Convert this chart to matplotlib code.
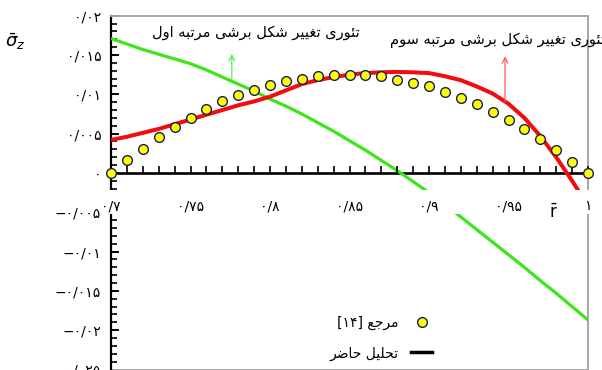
import re
import matplotlib
matplotlib.use('Agg')
import matplotlib.pyplot as plt
import matplotlib.transforms as mtransforms
from matplotlib.lines import Line2D
from matplotlib.patches import Rectangle
from matplotlib.ticker import MultipleLocator

# ---------------- data ----------------
r_bar = [0.70, 0.71, 0.72, 0.73, 0.74, 0.75, 0.76, 0.77, 0.78, 0.79, 0.80,
         0.81, 0.82, 0.83, 0.84, 0.85, 0.86, 0.87, 0.88, 0.89, 0.90,
         0.91, 0.92, 0.93, 0.94, 0.95, 0.96, 0.97, 0.98, 0.99, 1.00]

ref14 = [0.0, 0.0016, 0.0031, 0.0046, 0.0059, 0.0070, 0.0081, 0.0091, 0.0099, 0.0106, 0.0112,
         0.0117, 0.0120, 0.0123, 0.0124, 0.0124, 0.0124, 0.0123, 0.0118, 0.0114, 0.0110,
         0.0103, 0.0095, 0.0088, 0.0078, 0.0067, 0.0056, 0.0043, 0.0029, 0.0014, 0.0]

third_order = [0.0042, 0.0046, 0.0051, 0.0056, 0.0062, 0.0068, 0.0074, 0.0080, 0.0086, 0.0091, 0.0097,
               0.0105, 0.0113, 0.0118, 0.0122, 0.0125, 0.0127, 0.0128, 0.01285, 0.0128, 0.0127,
               0.0123, 0.0118, 0.0110, 0.0101, 0.0088, 0.0070, 0.0047, 0.0020, -0.0010, -0.0042]

first_order = [0.0171, 0.0164, 0.0157, 0.0151, 0.0145, 0.0139, 0.0131, 0.0122, 0.0113, 0.0104, 0.0094,
               0.0085, 0.0075, 0.0064, 0.0053, 0.0041, 0.0029, 0.0016, 0.0003, -0.0011, -0.0025,
               -0.0040, -0.0056, -0.0072, -0.0088, -0.0104, -0.0120, -0.0137, -0.0153, -0.0170, -0.0187]

xtick_values = [0.70, 0.75, 0.80, 0.85, 0.90, 0.95, 1.00]
xtick_labels = ['۰/۷', '۰/۷۵', '۰/۸', '۰/۸۵', '۰/۹', '۰/۹۵', '۱']
ytick_values = [0.02, 0.015, 0.01, 0.005, 0.0, -0.005, -0.01, -0.015, -0.02, -0.025]
ytick_labels = ['۰/۰۲', '۰/۰۱۵', '۰/۰۱', '۰/۰۰۵', '۰',
                '−۰/۰۰۵', '−۰/۰۱', '−۰/۰۱۵', '−۰/۰۲', '−۰/۰۲۵']

label_first = 'تئوری تغییر شکل برشی مرتبه اول'
label_third = 'تئوری تغییر شکل برشی مرتبه سوم'
label_ref = 'مرجع [۱۴]'
label_present = 'تحلیل حاضر'

# ---------------- minimal Persian shaping ----------------
FORMS = {
    '\u0627': ('\uFE8D', '\uFE8E', None, None),
    '\u0628': ('\uFE8F', '\uFE90', '\uFE91', '\uFE92'),
    '\u062A': ('\uFE95', '\uFE96', '\uFE97', '\uFE98'),
    '\u062C': ('\uFE9D', '\uFE9E', '\uFE9F', '\uFEA0'),
    '\u062D': ('\uFEA1', '\uFEA2', '\uFEA3', '\uFEA4'),
    '\u062F': ('\uFEA9', '\uFEAA', None, None),
    '\u0631': ('\uFEAD', '\uFEAE', None, None),
    '\u0632': ('\uFEAF', '\uFEB0', None, None),
    '\u0633': ('\uFEB1', '\uFEB2', '\uFEB3', '\uFEB4'),
    '\u0634': ('\uFEB5', '\uFEB6', '\uFEB7', '\uFEB8'),
    '\u0636': ('\uFEBD', '\uFEBE', '\uFEBF', '\uFEC0'),
    '\u0639': ('\uFEC9', '\uFECA', '\uFECB', '\uFECC'),
    '\u063A': ('\uFECD', '\uFECE', '\uFECF', '\uFED0'),
    '\u06A9': ('\uFB8E', '\uFB8F', '\uFB90', '\uFB91'),
    '\u0644': ('\uFEDD', '\uFEDE', '\uFEDF', '\uFEE0'),
    '\u0645': ('\uFEE1', '\uFEE2', '\uFEE3', '\uFEE4'),
    '\u0646': ('\uFEE5', '\uFEE6', '\uFEE7', '\uFEE8'),
    '\u0647': ('\uFEE9', '\uFEEA', '\uFEEB', '\uFEEC'),
    '\u0648': ('\uFEED', '\uFEEE', None, None),
    '\u06CC': ('\uFBFC', '\uFBFD', '\uFBFE', '\uFBFF'),
    '\u0626': ('\uFE89', '\uFE8A', '\uFE8B', '\uFE8C'),
}


def _jt(c):
    if c in FORMS:
        return 'D' if FORMS[c][2] else 'R'
    return 'U'


def shape(s):
    out = []
    n = len(s)
    for i, c in enumerate(s):
        if c not in FORMS:
            out.append(c)
            continue
        f = FORMS[c]
        prev = s[i - 1] if i > 0 else ''
        nxt = s[i + 1] if i + 1 < n else ''
        jp = prev != '' and _jt(prev) == 'D'
        jn = f[2] is not None and nxt != '' and _jt(nxt) in ('D', 'R')
        if jp and jn:
            out.append(f[3])
        elif jp:
            out.append(f[1])
        elif jn:
            out.append(f[2])
        else:
            out.append(f[0])
    return ''.join(out)


def fa(s):
    t = shape(s)[::-1]
    t = re.sub('[۰-۹0-9]+', lambda m: m.group(0)[::-1], t)
    return t.translate(str.maketrans('[]()', '][)('))


plt.rcParams['font.family'] = ['DejaVu Sans']

# ---------------- figure ----------------
fig = plt.figure(figsize=(6.02, 3.70), dpi=100)
ax = fig.add_axes([111 / 602, 0.5 / 370, 477 / 602, 353.8 / 370])

green = '#3de61a'
red = '#f20d0d'
gray = '#a6a6a6'

ax.plot(r_bar, first_order, color=green, lw=2.3, zorder=3, solid_capstyle='butt')
ax.plot(r_bar, third_order, color=red, lw=2.9, zorder=3, solid_capstyle='butt')
pts, = ax.plot(r_bar, ref14, ls='none', marker='o', ms=7, mfc='#ffff00',
               mec='#1a1a5c', mew=1.0, zorder=4, clip_on=False)

ax.set_xlim(0.70, 1.00)
ax.set_ylim(-0.025, 0.02)

# spines
ax.spines['bottom'].set_position(('data', 0))
ax.spines['bottom'].set_linewidth(1.9)
ax.spines['left'].set_linewidth(1.6)
for s in ('top', 'right'):
    ax.spines[s].set_color(gray)
    ax.spines[s].set_linewidth(1.4)
ax.plot([0, 1], [0, 0], transform=ax.transAxes, color=gray, lw=1.4, clip_on=False, zorder=2.4)

# ticks
ax.set_xticks(xtick_values)
ax.set_xticklabels(xtick_labels)
ax.xaxis.set_minor_locator(MultipleLocator(0.01))
ax.set_yticks(ytick_values)
ax.set_yticklabels(ytick_labels)
ax.yaxis.set_minor_locator(MultipleLocator(0.001))
ax.tick_params(axis='x', which='both', direction='in', length=5, width=1.2,
               pad=19, labelsize=10, top=False)
ax.tick_params(axis='y', which='major', direction='in', length=6, width=1.4,
               pad=7, labelsize=10, right=False)
ax.tick_params(axis='y', which='minor', direction='in', length=4, width=1.2, right=False)

# white band behind x tick labels
trans = mtransforms.blended_transform_factory(ax.transAxes, ax.transData)
ax.add_patch(Rectangle((-0.012, -0.0052), 1.03, 0.0030, transform=trans,
                       facecolor='white', edgecolor='none', clip_on=False, zorder=3.5))
ax.xaxis.set_zorder(3.8)

# annotations
ax.text(0.7912, 0.0178, fa(label_first), ha='center', va='center', fontsize=10.5, zorder=6)
ax.annotate('', xy=(0.776, 0.0155), xytext=(0.776, 0.0116),
            arrowprops=dict(arrowstyle='->', color='#55ee55', lw=0.9), zorder=6)
ax.text(0.8755, 0.0169, fa(label_third), ha='left', va='center', fontsize=10.5,
        zorder=6, clip_on=False)
ax.annotate('', xy=(0.9478, 0.0152), xytext=(0.9478, 0.0087),
            arrowprops=dict(arrowstyle='->', color='#ff5a5a', lw=0.9), zorder=6)

# axis labels
ax.text(0.978, -0.0051, r'$\bar{\mathrm{r}}$', ha='center', va='center', fontsize=12, zorder=6)
fig.text(15 / 602, 1 - 42 / 370, r'$\bar{\sigma}_z$', ha='center', va='center', fontsize=13)

# legend
present = Line2D([], [], color='black', lw=2.5)
leg = ax.legend([pts, present], [fa(label_ref), fa(label_present)], loc='center',
                bbox_to_anchor=(0.566, 0.089), frameon=False, markerfirst=False,
                fontsize=10, handlelength=1.5, handletextpad=0.9, labelspacing=1.2)
leg.set_zorder(6)

fig.savefig('out.png', dpi=100)
